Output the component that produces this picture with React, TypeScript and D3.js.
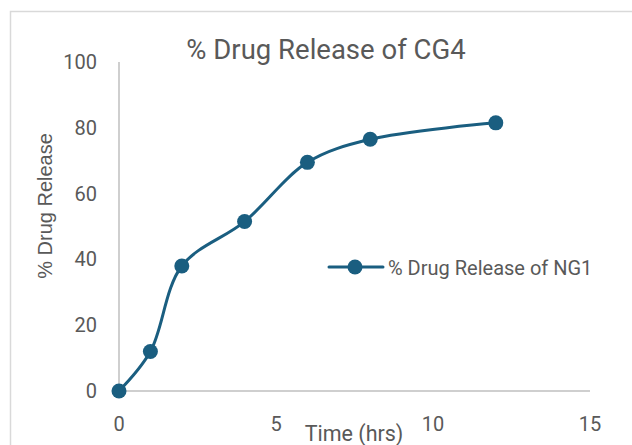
import React from "react";
import * as d3 from "d3";

const times = [0, 1, 2, 4, 6, 8, 12];
const release = [0, 12, 38, 51.5, 69.5, 76.5, 81.5];
const xTicks = [0, 5, 10, 15];
const yTicks = [0, 20, 40, 60, 80, 100];
const title = "% Drug Release of CG4";
const seriesName = "% Drug Release of NG1";
const xTitle = "Time (hrs)";
const yTitle = "% Drug Release";

const W = 632;
const H = 445;
const color = "#1a5e80";
const textColor = "#595959";
const axisColor = "#bfbfbf";
const font = "Roboto, 'Liberation Sans', sans-serif";

export default function App() {
  const x = d3.scaleLinear().domain([0, 15]).range([119, 590]);
  const y = d3.scaleLinear().domain([0, 100]).range([391, 62]);
  const pts: [number, number][] = times.map((t, i) => [x(t), y(release[i])]);
  const line = d3.line().curve(d3.curveCatmullRom.alpha(0.5))(pts) || "";

  return (
    <svg width={W} height={H} style={{ position: "absolute", left: 0, top: 0 }}>
      <rect x={0} y={0} width={W} height={H} fill="#fff" />
      <rect x={10.5} y={11.5} width={W + 20} height={H + 20} fill="#fff" stroke="#d9d9d9" strokeWidth={1.5} />
      <text x={326} y={59} textAnchor="middle" fontFamily={font} fontSize={27.5} fill={textColor}>
        {title}
      </text>
      <line x1={x(0)} x2={x(0)} y1={y(100)} y2={y(0)} stroke={axisColor} strokeWidth={1.5} />
      <line x1={x(0)} x2={x(15)} y1={y(0)} y2={y(0)} stroke={axisColor} strokeWidth={1.5} />
      {yTicks.map((t) => (
        <text key={t} x={97} y={y(t) + 7} textAnchor="end" fontFamily={font} fontSize={20} fill={textColor}>
          {t}
        </text>
      ))}
      {xTicks.map((t) => (
        <text key={t} x={x(t)} y={431} textAnchor="middle" fontFamily={font} fontSize={20} fill={textColor}>
          {t}
        </text>
      ))}
      <text x={354} y={441} textAnchor="middle" fontFamily={font} fontSize={21.5} fill={textColor}>
        {xTitle}
      </text>
      <text
        transform={`translate(52,206) rotate(-90)`}
        textAnchor="middle"
        fontFamily="'Liberation Sans', Arial, sans-serif"
        fontSize={20}
        fill={textColor}
      >
        {yTitle}
      </text>
      <path d={line} fill="none" stroke={color} strokeWidth={3} />
      {pts.map((p, i) => (
        <circle key={i} cx={p[0]} cy={p[1]} r={7.5} fill={color} />
      ))}
      <line x1={329} x2={383} y1={267} y2={267} stroke={color} strokeWidth={3} strokeLinecap="round" />
      <circle cx={355} cy={267} r={7.5} fill={color} />
      <text x={388} y={275} fontFamily={font} fontSize={20} fill={textColor}>
        {seriesName}
      </text>
    </svg>
  );
}
